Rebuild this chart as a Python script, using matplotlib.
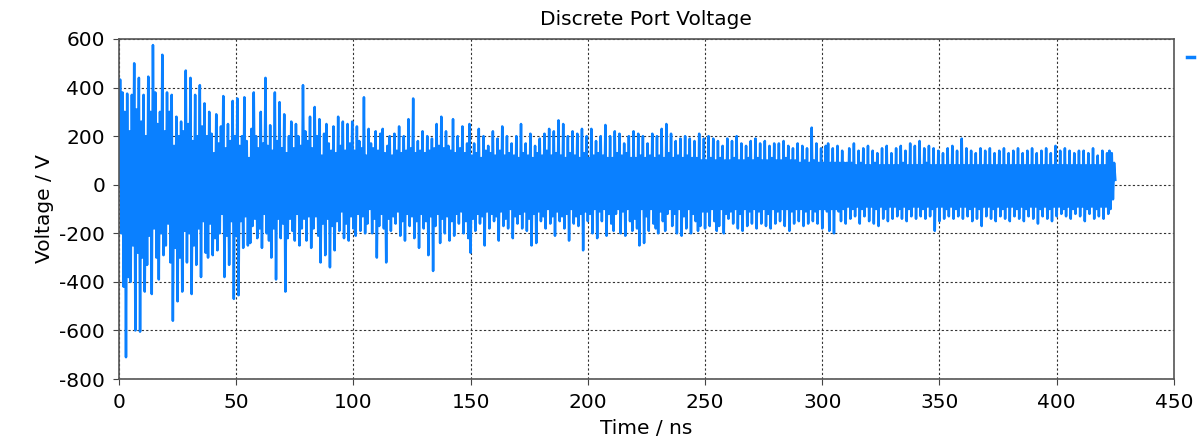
import numpy as np
import matplotlib
matplotlib.use('Agg')
import matplotlib.pyplot as plt
from matplotlib.lines import Line2D

plt.rcParams['axes.unicode_minus'] = False

# voltage samples, two per ns (0 .. 425 ns)
volt_000_050 = [0, 433, -200, 380, -420, 300, -710, 375, -380, 220, -400, 370, -250, 500, -600, 310, -280, 440, -605, 260,
                -300, 370, -440, 200, -330, 445, -210, 300, -450, 575, -180, 380, -300, 250, -390, 300, -200, 535, -290, 220,
                -250, 380, -160, 300, -320, 370, -560, 160, -260, 280, -480, 200, -300, 260, -440, 220, -190, 470, -320, 250,
                -200, 440, -450, 180, -250, 370, -330, 200, -180, 410, -380, 240, -150, 335, -280, 200, -300, 300, -160, 210,
                -290, 130, -220, 290, -270, 170, -200, 240, -120, 365, -380, 150, -210, 250, -330, 180, -150, 345, -470, 200]
volt_050_100 = [-210, 355, -455, 160, -150, 200, -260, 360, -130, 180, -250, 110, -240, 230, -170, 380, -140, 200, -220, 150,
                -180, 300, -260, 170, -120, 440, -200, 160, -230, 245, -300, 140, -180, 380, -390, 180, -140, 340, -220, 150,
                -160, 290, -440, 130, -220, 200, -140, 260, -190, 150, -230, 250, -120, 200, -250, 160, -180, 410, -140, 220,
                -230, 180, -130, 280, -260, 150, -180, 320, -130, 200, -210, 270, -320, 120, -160, 210, -290, 250, -140, 170,
                -340, 140, -170, 240, -270, 130, -150, 280, -190, 160, -110, 260, -220, 140, -160, 250, -230, 170, -130, 260]
volt_100_150 = [-180, 140, -210, 240, -120, 180, -190, 150, -130, 360, -200, 120, -160, 230, -100, 170, -200, 150, -140, 220,
                -300, 140, -170, 210, -120, 230, -180, 130, -320, 160, -140, 200, -190, 120, -130, 210, -160, 140, -110, 240,
                -210, 130, -150, 200, -230, 140, -120, 270, -170, 150, -130, 355, -220, 130, -150, 180, -260, 140, -120, 220,
                -180, 130, -150, 200, -290, 140, -130, 190, -355, 150, -170, 250, -120, 160, -240, 280, -140, 150, -200, 220,
                -130, 160, -230, 140, -150, 270, -210, 130, -120, 200, -160, 150, -110, 240, -200, 130, -150, 170, -220, 250]
volt_150_200 = [-280, 120, -140, 170, -190, 130, -120, 230, -160, 110, -130, 200, -250, 140, -110, 160, -180, 130, -120, 220,
                -150, 120, -130, 190, -230, 140, -110, 240, -170, 120, -140, 200, -180, 130, -100, 170, -220, 120, -130, 200,
                -160, 110, -120, 250, -180, 130, -110, 170, -190, 120, -140, 210, -250, 110, -120, 160, -240, 130, -110, 190,
                -150, 120, -130, 210, -180, 140, -100, 230, -160, 120, -130, 220, -210, 130, -110, 265, -150, 120, -130, 250,
                -180, 110, -120, 200, -230, 130, -100, 220, -160, 120, -130, 210, -170, 110, -120, 230, -270, 130, -110, 200]
volt_200_250 = [-150, 110, -120, 230, -200, 120, -100, 180, -220, 130, -110, 200, -150, 120, -100, 246, -210, 110, -120, 200,
                -160, 110, -190, 220, -120, 130, -100, 210, -200, 120, -110, 170, -210, 130, -100, 200, -150, 110, -190, 220,
                -140, 110, -180, 210, -250, 120, -100, 200, -240, 110, -130, 170, -190, 120, -100, 210, -160, 110, -180, 200,
                -200, 120, -110, 230, -150, 110, -190, 250, -120, 130, -100, 210, -170, 110, -120, 180, -200, 120, -100, 190,
                -210, 110, -130, 200, -180, 120, -100, 190, -200, 110, -120, 180, -150, 110, -190, 210, -170, 100, -110, 190]
volt_250_300 = [-180, 100, -110, 200, -170, 110, -100, 190, -150, 100, -190, 180, -170, 110, -100, 160, -200, 100, -120, 190,
                -140, 100, -110, 180, -160, 110, -100, 200, -180, 100, -120, 170, -190, 100, -100, 160, -170, 110, -110, 180,
                -160, 100, -100, 190, -180, 110, -110, 170, -160, 100, -100, 180, -170, 100, -120, 160, -180, 110, -100, 170,
                -160, 100, -110, 170, -150, 100, -100, 180, -170, 110, -100, 160, -190, 100, -110, 150, -160, 100, -100, 170,
                -150, 90, -100, 160, -170, 100, -110, 150, -160, 90, -100, 235, -150, 100, -110, 170, -160, 90, -100, 150]
volt_300_350 = [-180, 90, -100, 160, -110, 170, -190, 90, -100, 150, -200, 90, -100, 160, -110, 90, -150, 140, -100, 90,
                -160, 90, -90, 150, -140, 90, -100, 170, -130, 80, -90, 140, -160, 90, -100, 150, -130, 80, -90, 160,
                -150, 80, -90, 140, -160, 90, -100, 130, -170, 80, -90, 150, -140, 80, -100, 160, -150, 80, -90, 130,
                -140, 80, -90, 150, -130, 80, -100, 160, -140, 90, -90, 140, -150, 80, -100, 170, -130, 80, -90, 160,
                -140, 80, -90, 180, -130, 80, -100, 150, -140, 90, -90, 160, -130, 80, -100, 150, -190, 80, -90, 140]
volt_350_400 = [-150, 80, -90, 130, -140, 80, -100, 150, -130, 80, -90, 160, -140, 80, -100, 140, -130, 80, -90, 190,
                -140, 80, -90, 150, -130, 80, -100, 140, -150, 80, -90, 130, -140, 80, -100, 150, -170, 80, -90, 140,
                -130, 80, -90, 150, -140, 80, -100, 130, -150, 80, -90, 140, -130, 80, -100, 150, -140, 80, -90, 130,
                -150, 80, -90, 140, -130, 80, -100, 150, -140, 80, -90, 130, -150, 80, -100, 140, -130, 80, -90, 150,
                -140, 80, -90, 130, -160, 80, -100, 140, -130, 80, -90, 150, -140, 80, -100, 130, -150, 80, -90, 160]
volt_400_425 = [-130, 80, -90, 140, -120, 80, -100, 150, -130, 80, -90, 140, -140, 80, -100, 130, -120, 80, -90, 140,
                -130, 80, -90, 140, -150, 80, -100, 130, -120, 80, -90, 150, -140, 80, -100, 120, -130, 80, -90, 140,
                -140, 80, -90, 130, -120, 140, -100, 130, -60, 90, 20]

volt = np.array(volt_000_050 + volt_050_100 + volt_100_150 + volt_150_200 +
                volt_200_250 + volt_250_300 + volt_300_350 + volt_350_400 +
                volt_400_425, dtype=float)
time_ns = np.arange(len(volt)) * 0.5

blue = '#0A80FF'

fig = plt.figure(figsize=(12.04, 4.47), dpi=100)
ax = fig.add_axes([0.0988, 0.152, 0.8762, 0.7608])

ax.plot(time_ns, volt, color=blue, lw=1.8)

ax.set_xlim(0, 450)
ax.set_ylim(-800, 600)
ax.set_xticks(np.arange(0, 451, 50))
ax.set_yticks(np.arange(-800, 601, 200))
ax.grid(True, color='#333333', linestyle=(0, (2, 2)), lw=0.8)
ax.tick_params(labelsize=14.5, length=4, pad=6, color='#444444')
for s in ax.spines.values():
    s.set_color('#555555')
    s.set_linewidth(1.2)

ax.set_title('Discrete Port Voltage', fontsize=14.5, pad=10)
ax.set_xlabel('Time / ns', fontsize=14.5, labelpad=5)
ax.set_ylabel('Voltage / V', fontsize=14.5, labelpad=4)

# legend entry without text, just the short line
fig.add_artist(Line2D([0.9855, 0.9915], [0.8725, 0.8725], color=blue, lw=2.5))

fig.savefig('out.png', dpi=100)
